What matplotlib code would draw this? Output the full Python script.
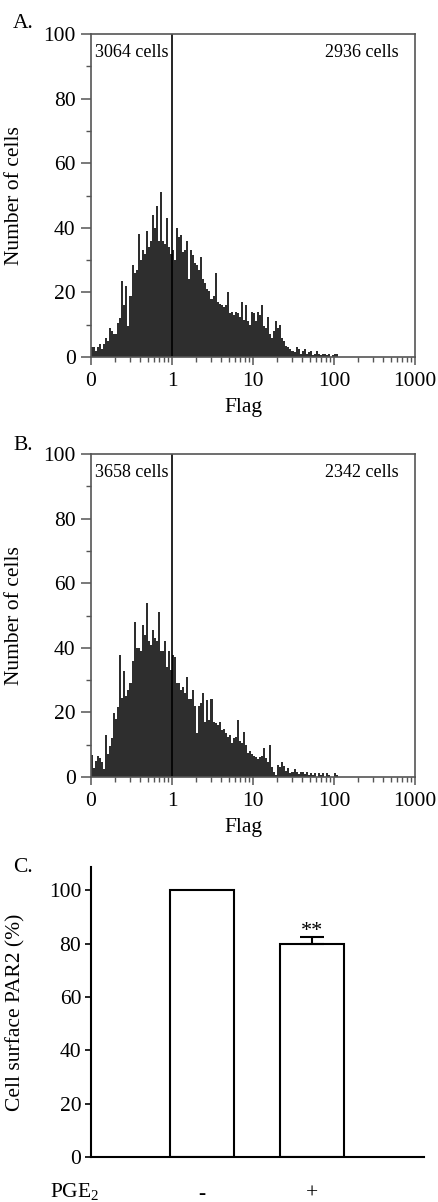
import numpy as np
import matplotlib
matplotlib.use("Agg")
import matplotlib.pyplot as plt
from matplotlib.ticker import FixedLocator, NullFormatter, LogLocator

plt.rcParams['font.family'] = ['Liberation Serif', 'DejaVu Serif']
plt.rcParams['mathtext.fontset'] = 'custom'
plt.rcParams['mathtext.rm'] = 'Liberation Serif'

# ---------------- data ----------------
bins_per_decade = 40
hist_a = [3, 3, 2, 3, 4, 2.5, 4, 6, 5, 9, 8, 7, 7, 10.5, 12, 23.5, 16, 22, 9.5, 19,
          28.5, 26, 27, 38, 30, 33, 32, 39, 34, 36, 44, 40, 46.7, 36, 51, 36, 35, 43, 34, 32,
          33, 30, 40, 37, 37.7, 32.5, 33, 36, 24, 33, 31.5, 29, 28.5, 27, 31, 24, 23, 21, 20.5, 18,
          19, 26, 17, 16.5, 16, 15.5, 16, 20, 13.5, 14, 13, 14, 13.5, 12.5, 17, 11.5, 16, 11, 10, 14,
          13.5, 11, 14, 13, 16, 9.5, 9, 12.5, 7, 6, 8, 11, 9, 10, 6, 5, 3.5, 3, 2.5, 2,
          1.5, 3, 2.5, 1, 2, 2.5, 1, 1.5, 2, 0.5, 1, 2, 1, 0.5, 1, 1, 0.5, 1, 0, 0.5,
          1, 1]
hist_b = [6.9, 2.8, 5, 6.5, 6, 4.5, 2.5, 13, 7, 9.5, 12, 19.8, 18, 21.8, 37.8, 24.4, 32.7, 25, 27, 29,
          36, 48, 40, 40, 39, 47, 44, 53.8, 42, 41, 45.6, 43, 42, 51, 39, 39, 42, 34, 39, 33,
          37.7, 37, 29, 29, 27, 28, 26, 31, 24, 24, 27, 22, 13.5, 22, 23, 26, 17, 23.8, 17.5, 24,
          17, 16.6, 16, 17, 14.5, 15, 13.5, 12.5, 13, 10.4, 12, 12.5, 17.6, 11, 10.4, 14, 10, 7.5, 8, 7,
          6.5, 6.3, 5.5, 6.3, 6.5, 9, 5.8, 4.5, 9.9, 3.2, 1.6, 0.5, 3.7, 3.2, 4.7, 3.5, 2, 2.7, 1.2, 1.6,
          2.5, 1.6, 1, 1.6, 1.6, 1, 1.6, 0.5, 1.1, 0.5, 1.1, 0, 1.1, 0.5, 1.1, 0, 1.1, 0.5, 0, 0,
          1.1, 0.5]
cells_a = ["3064 cells", "2936 cells"]
cells_b = ["3658 cells", "2342 cells"]
xtick_vals = [0.1, 1, 10, 100, 1000]
xtick_labels = ["0", "1", "10", "100", "1000"]
gate = 1

bar_labels = ["-", "+"]
bar_values = [100, 80]
bar_err_up = [0, 2.3]
bar_sig = ["", "**"]

# ---------------- layout ----------------
W, H = 438, 1202
fig = plt.figure(figsize=(W / 100, H / 100), dpi=100)

def axrect(l, r, t, b):
    return [l / W, 1 - b / H, (r - l) / W, (b - t) / H]

FS = 15.5
frame_col = '#555555'


def hist_panel(rect, values, cells, letter, letter_y):
    ax = fig.add_axes(rect)
    n = len(values)
    edges = 10 ** (-1 + np.arange(n + 1) / bins_per_decade)
    ax.stairs(values, edges, fill=True, color='#2e2e2e', linewidth=0)
    ax.set_xscale('log')
    ax.set_xlim(0.1, 1000)
    ax.set_ylim(0, 100)
    ax.axvline(gate, color='black', lw=1.2)
    ax.xaxis.set_major_locator(FixedLocator(xtick_vals))
    ax.set_xticklabels(xtick_labels)
    ax.xaxis.set_minor_locator(LogLocator(base=10, subs=np.arange(2, 10), numticks=20))
    ax.xaxis.set_minor_formatter(NullFormatter())
    ax.yaxis.set_major_locator(FixedLocator([0, 20, 40, 60, 80, 100]))
    ax.yaxis.set_minor_locator(FixedLocator([10, 30, 50, 70, 90]))
    ax.tick_params(which='major', direction='out', length=7, width=1.1,
                   color=frame_col, labelsize=FS, pad=4)
    ax.tick_params(which='minor', direction='out', length=3.5, width=1.0, color=frame_col)
    ax.tick_params(axis='x', which='major', length=6, pad=5)
    for s in ax.spines.values():
        s.set_color(frame_col)
        s.set_linewidth(1.2)
    ax.set_ylabel("Number of cells", fontsize=FS)
    ax.yaxis.set_label_coords(-0.207, 0.5)
    ax.text(0.472, -0.155, "Flag", transform=ax.transAxes, ha='center', va='center',
            fontsize=FS)
    ax.text(0.012, 0.944, cells[0], transform=ax.transAxes, ha='left', va='center',
            fontsize=13)
    ax.text(0.948, 0.944, cells[1], transform=ax.transAxes, ha='right', va='center',
            fontsize=13)
    fig.text(13 / W, 1 - letter_y / H, letter, ha='left', va='center', fontsize=FS)
    return ax


hist_panel(axrect(91, 415, 34, 357), hist_a, cells_a, "A.", 23)
hist_panel(axrect(91, 415, 454, 777), hist_b, cells_b, "B.", 445)

# ---------------- panel C ----------------
axc = fig.add_axes(axrect(91, 424, 867, 1157))
xpos = np.arange(len(bar_labels))
axc.bar(xpos, bar_values, width=0.59, color='white', edgecolor='black', linewidth=1.5,
        zorder=2)
axc.errorbar(xpos[1:], bar_values[1:], yerr=[[0], bar_err_up[1:]], fmt='none',
             ecolor='black', elinewidth=1.5, capsize=8.3, capthick=1.5, zorder=3)
for x, v, e, s in zip(xpos, bar_values, bar_err_up, bar_sig):
    if s:
        axc.text(x, v + e - 1.5, s, ha='center', va='bottom', fontsize=16)
axc.set_xlim(-1.009, 2.018)
axc.set_ylim(0, 108.7)
axc.set_xticks(xpos)
axc.set_xticklabels(bar_labels, fontsize=FS)
axc.tick_params(axis='x', length=0, pad=20)
axc.set_yticks([0, 20, 40, 60, 80, 100])
axc.tick_params(axis='y', direction='out', length=4, width=1.2, labelsize=FS, pad=3)
for side in ['top', 'right']:
    axc.spines[side].set_visible(False)
for side in ['left', 'bottom']:
    axc.spines[side].set_linewidth(1.5)
    axc.spines[side].set_color('black')
axc.set_ylabel("Cell surface PAR2 (%)", fontsize=FS)
axc.yaxis.set_label_coords(-0.198, 0.5)
fig.text(50 / W, 1 - 1192 / H, "PGE$_2$", ha='left', va='center', fontsize=FS)
fig.text(13 / W, 1 - 868 / H, "C.", ha='left', va='center', fontsize=FS)

fig.savefig("out.png", dpi=100)
